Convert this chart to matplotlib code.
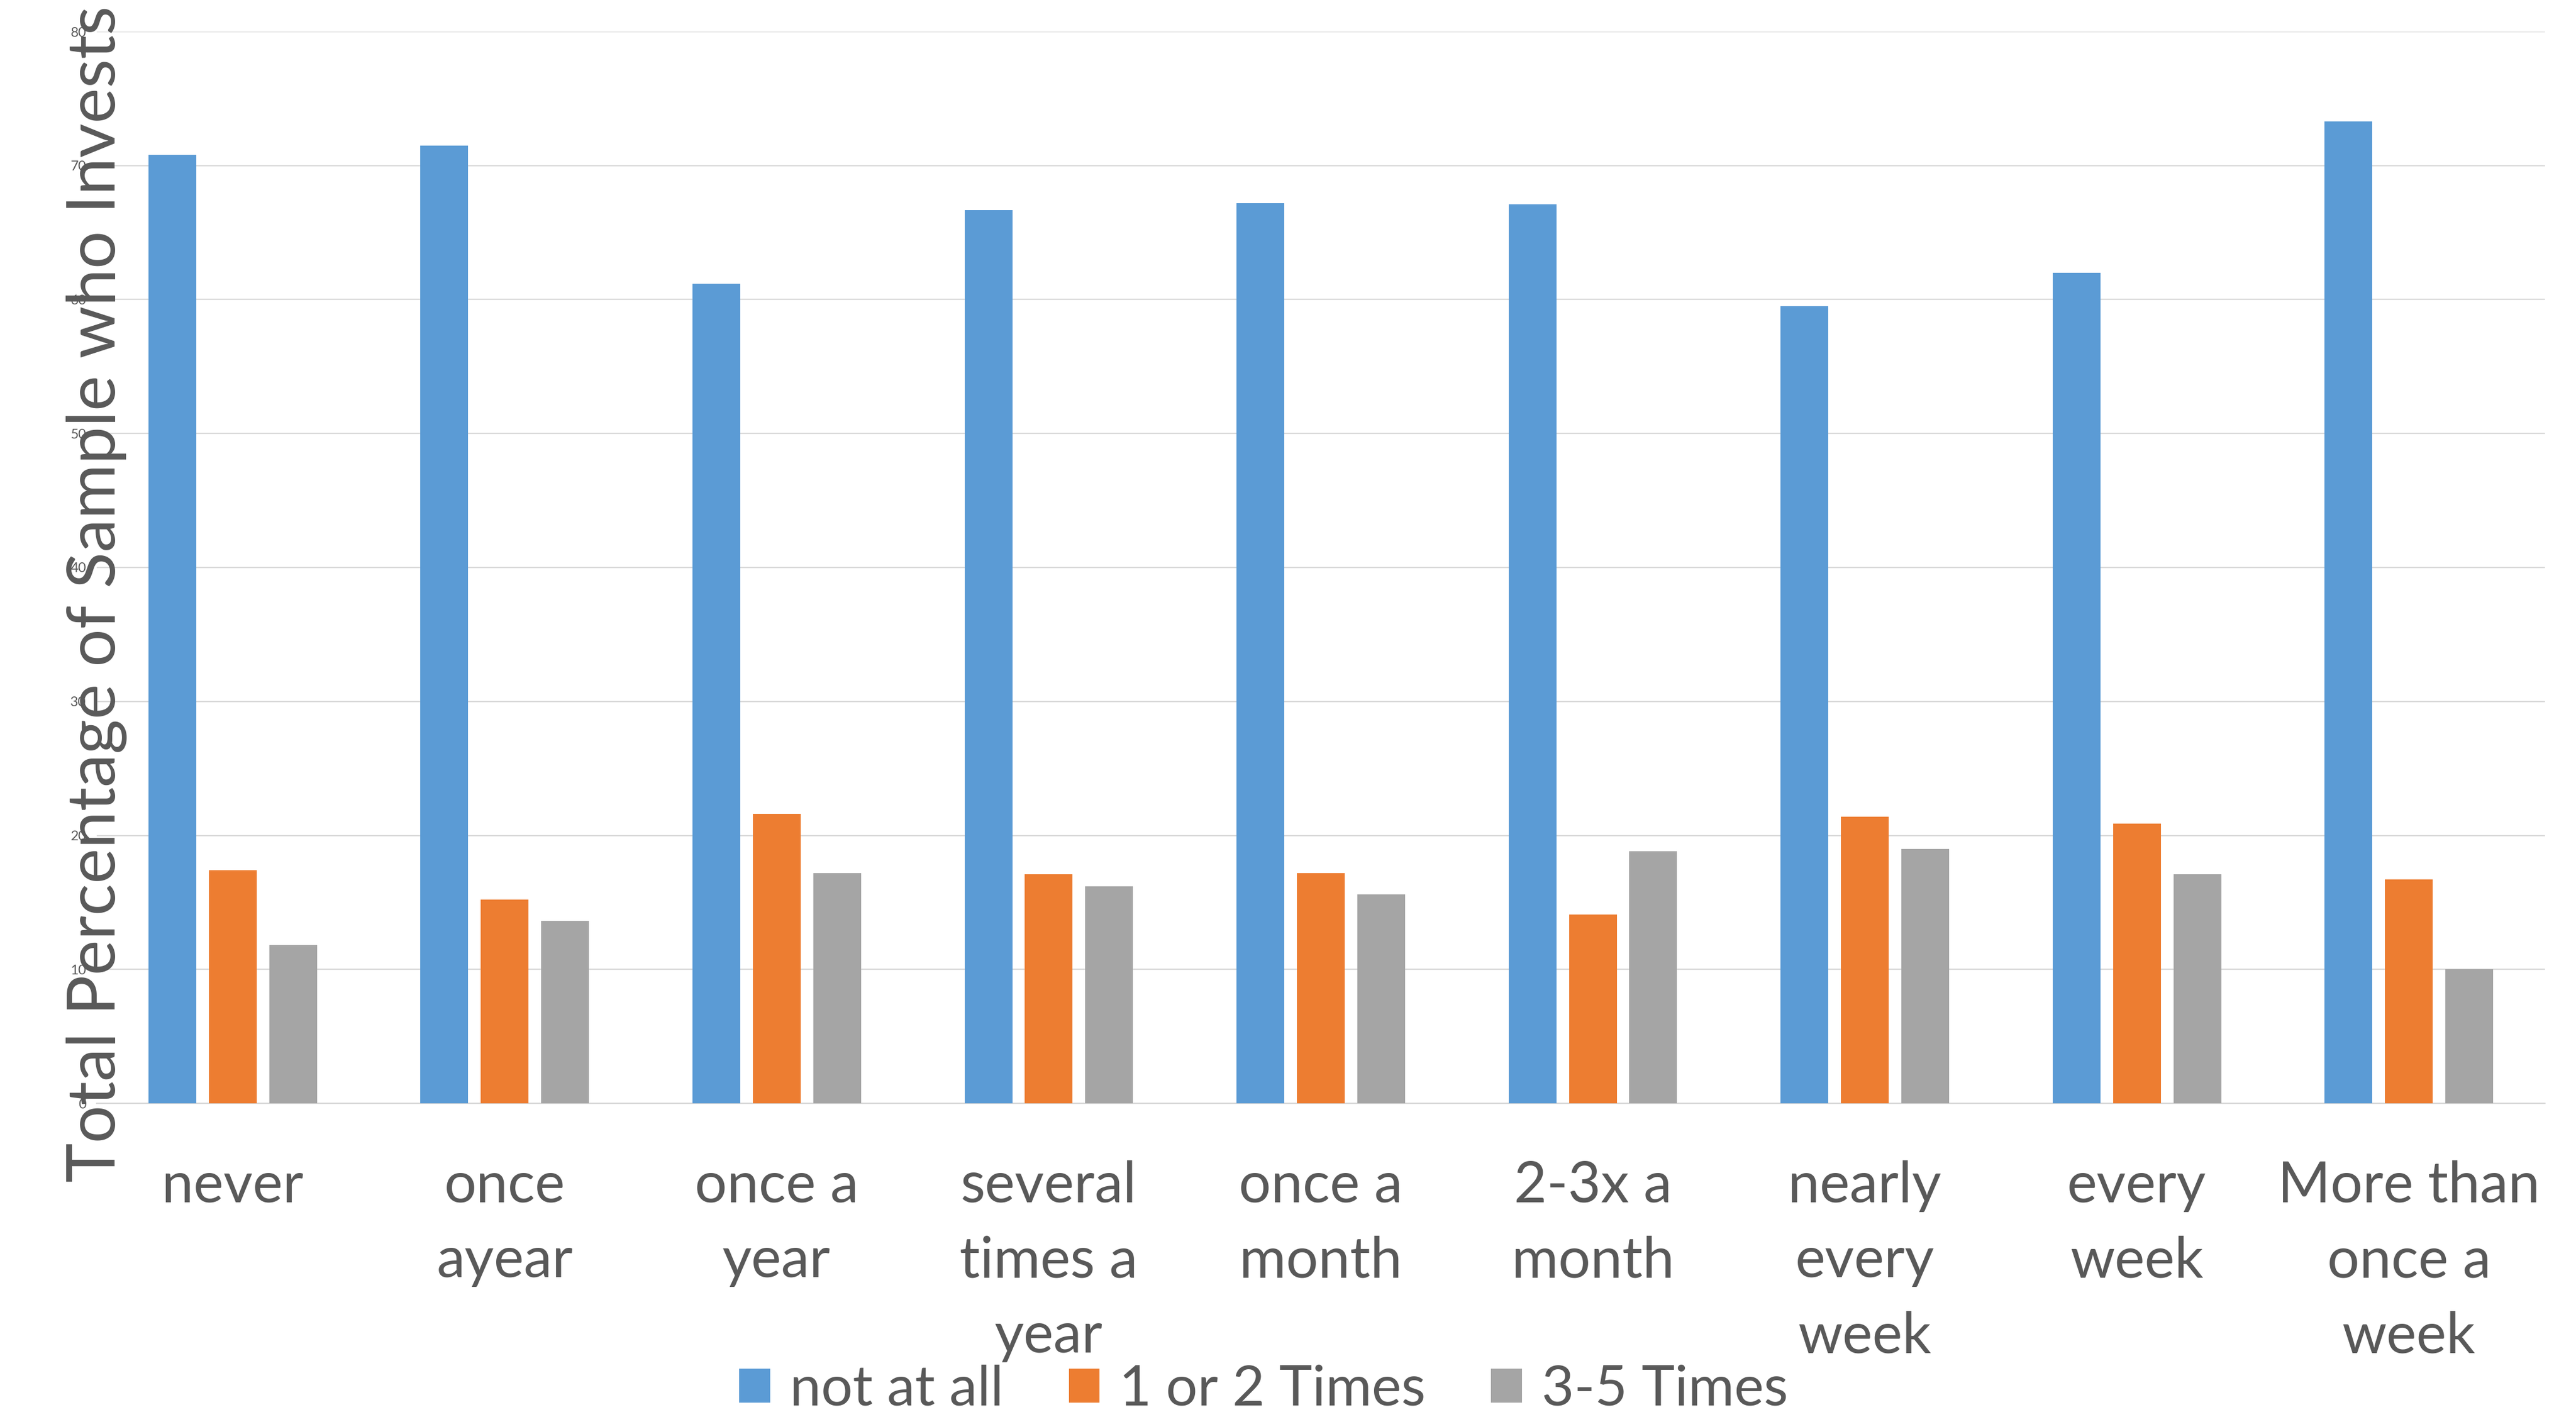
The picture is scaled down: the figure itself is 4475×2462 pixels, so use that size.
import matplotlib.pyplot as plt
import numpy as np

# data
categories = ['never', 'once\nayear', 'once a\nyear', 'several\ntimes a\nyear', 'once a\nmonth',
              '2-3x a\nmonth', 'nearly\nevery\nweek', 'every\nweek', 'More than\nonce a\nweek']
not_at_all = [70.8, 71.5, 61.2, 66.7, 67.2, 67.1, 59.5, 62.0, 73.3]
one_or_two = [17.4, 15.2, 21.6, 17.1, 17.2, 14.1, 21.4, 20.9, 16.7]
three_to_five = [11.8, 13.6, 17.2, 16.2, 15.6, 18.8, 19.0, 17.1, 10.0]
series_names = ['not at all', '1 or 2 Times', '3-5 Times']
colors = ['#5B9BD5', '#ED7D31', '#A5A5A5']
yticks = [0, 10, 20, 30, 40, 50, 60, 70, 80]

W, H = 4475, 2462
txt = '#595959'
font = 'Lato'

fig = plt.figure(figsize=(W / 100, H / 100), dpi=100)
ax = fig.add_axes([168 / W, 1 - 1917 / H, (4421 - 168) / W, (1917 - 55) / H])

x = np.arange(len(categories))
for i, vals in enumerate([not_at_all, one_or_two, three_to_five]):
    ax.bar(x + (i - 1) * 0.222, vals, width=0.1756, color=colors[i],
           label=series_names[i], zorder=3)

ax.set_xlim(-0.5, len(categories) - 0.5)
ax.set_ylim(0, 80)
ax.set_yticks(yticks)
ax.set_xticks(x)
ax.set_xticklabels(categories, fontsize=71, color=txt, family=font, linespacing=1.56)
ax.tick_params(axis='x', length=0, pad=71)
ax.tick_params(axis='y', length=0, pad=13, labelsize=17, labelcolor=txt)
for lab in ax.get_yticklabels():
    lab.set_family(font)

ax.yaxis.grid(True, color='#d9d9d9', linewidth=1.6)
ax.set_axisbelow(True)
for s in ['top', 'right', 'left']:
    ax.spines[s].set_visible(False)
ax.spines['bottom'].set_color('#d9d9d9')
ax.spines['bottom'].set_linewidth(1.6)

fig.text(0.0376, 1 - 1032 / H, 'Total Percentage of Sample who Invests', rotation=90,
         ha='center', va='center', fontsize=83.5, color=txt, family=font)

handles, labels = ax.get_legend_handles_labels()
leg = fig.legend(handles, labels, loc='center', bbox_to_anchor=(2195 / W, 1 - 2415 / H),
                 ncol=3, frameon=False, handlelength=0.55, handleheight=0.55,
                 handletextpad=0.35, columnspacing=1.17, borderaxespad=0, borderpad=0,
                 prop={'family': font, 'size': 70})
for t in leg.get_texts():
    t.set_color(txt)

fig.savefig('out.png', dpi=100)
